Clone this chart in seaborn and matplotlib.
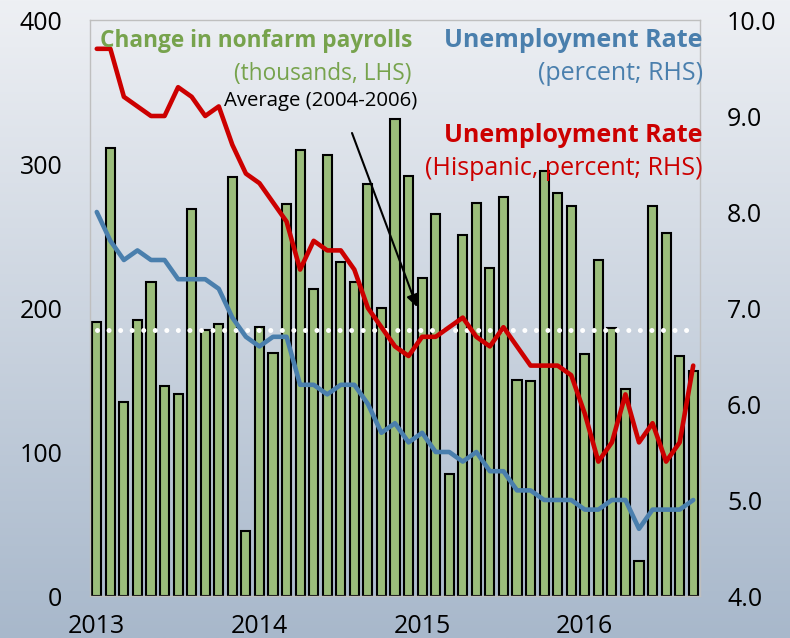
import numpy as np
import pandas as pd
import matplotlib
matplotlib.use("Agg")
import matplotlib.pyplot as plt
import seaborn as sns

# ---------------- data ----------------
months = list(range(45))  # Jan 2013 .. Sep 2016
payrolls = [190, 311, 135, 192, 218, 146, 140, 269, 185, 189, 291, 45,
            187, 169, 272, 310, 213, 306, 232, 218, 286, 200, 331, 292,
            221, 265, 85, 251, 273, 228, 277, 150, 149, 295, 280, 271,
            168, 233, 186, 144, 24, 271, 252, 167, 156]
unemp = [8.0, 7.7, 7.5, 7.6, 7.5, 7.5, 7.3, 7.3, 7.3, 7.2, 6.9, 6.7,
         6.6, 6.7, 6.7, 6.2, 6.2, 6.1, 6.2, 6.2, 6.0, 5.7, 5.8, 5.6,
         5.7, 5.5, 5.5, 5.4, 5.5, 5.3, 5.3, 5.1, 5.1, 5.0, 5.0, 5.0,
         4.9, 4.9, 5.0, 5.0, 4.7, 4.9, 4.9, 4.9, 5.0]
unemp_hisp = [9.7, 9.7, 9.2, 9.1, 9.0, 9.0, 9.3, 9.2, 9.0, 9.1, 8.7, 8.4,
              8.3, 8.1, 7.9, 7.4, 7.7, 7.6, 7.6, 7.4, 7.0, 6.8, 6.6, 6.5,
              6.7, 6.7, 6.8, 6.9, 6.7, 6.6, 6.8, 6.6, 6.4, 6.4, 6.4, 6.3,
              5.9, 5.4, 5.6, 6.1, 5.6, 5.8, 5.4, 5.6, 6.4]
avg_2004_2006 = 185
year_ticks = [0, 12, 24, 36]
year_labels = ["2013", "2014", "2015", "2016"]
left_ticks = [0, 100, 200, 300, 400]
right_ticks = [4.0, 5.0, 6.0, 7.0, 8.0, 9.0, 10.0]

df = pd.DataFrame({"month": months, "payrolls": payrolls,
                   "unemp": unemp, "hisp": unemp_hisp})

# ---------------- style ----------------
sns.set_style("white")
plt.rcParams["font.family"] = ["Open Sans", "DejaVu Sans"]

GREEN_BAR = "#9BBD7B"
GREEN_TXT = "#77A34D"
BLUE = "#4A7FAD"
RED = "#CC0000"

W, H = 790, 638
fig = plt.figure(figsize=(W / 100, H / 100), dpi=100)

# background gradient
bg = fig.add_axes([0, 0, 1, 1], zorder=-10)
top = np.array([238, 240, 244]) / 255
bot = np.array([168, 184, 203]) / 255
t = np.linspace(0, 1, 256)[:, None]
grad = top[None, :] * (1 - t) + bot[None, :] * t
bg.imshow(grad[:, None, :], aspect="auto", extent=[0, 1, 0, 1])
bg.axis("off")

def px(x0, y0, x1, y1):
    return [x0 / W, 1 - y1 / H, (x1 - x0) / W, (y1 - y0) / H]

ax = fig.add_axes(px(90, 20, 700, 596))
ax.set_facecolor("none")

sns.barplot(data=df, x="month", y="payrolls", color=GREEN_BAR, saturation=1,
            width=0.68, edgecolor="black", linewidth=1.5, ax=ax, zorder=2)
ax.plot([0, 44], [avg_2004_2006, avg_2004_2006], color="white",
        linestyle=(0, (0.01, 2.3)), linewidth=3.6, dash_capstyle="round",
        zorder=3)

ax.set_xlim(-0.5, 44.5)
ax.set_ylim(0, 400)
ax.set_yticks(left_ticks)
ax.set_yticklabels([str(v) for v in left_ticks])
ax.set_xticks(year_ticks)
ax.set_xticklabels(year_labels)
ax.set_xlabel("")
ax.set_ylabel("")
ax.tick_params(axis="y", length=0, pad=20, labelsize=18, colors="black")
ax.tick_params(axis="x", length=0, pad=13, labelsize=18, colors="black")
for s in ax.spines.values():
    s.set_color("#BFBFBF")
    s.set_linewidth(1)

ax2 = ax.twinx()
ax2.set_facecolor("none")
sns.lineplot(data=df, x="month", y="unemp", color=BLUE, linewidth=3.3,
             ax=ax2, solid_joinstyle="round", solid_capstyle="round")
sns.lineplot(data=df, x="month", y="hisp", color=RED, linewidth=3.3,
             ax=ax2, solid_joinstyle="round", solid_capstyle="round")
ax2.set_ylim(4, 10)
ax2.set_yticks(right_ticks)
ax2.set_yticklabels([f"{v:.1f}" for v in right_ticks])
ax2.set_ylabel("")
ax2.set_xlabel("")
ax2.tick_params(axis="y", length=0, pad=19.5, labelsize=18, colors="black")
for s in ax2.spines.values():
    s.set_visible(False)
ax2.set_xlim(-0.5, 44.5)

# ---------------- annotations ----------------
def fx(x):
    return x / W

def fy(y):
    return 1 - y / H

fig.text(fx(412), fy(47), "Change in nonfarm payrolls", color=GREEN_TXT,
         fontsize=16.3, fontweight="bold", ha="right", va="baseline")
fig.text(fx(411), fy(80), "(thousands, LHS)", color=GREEN_TXT,
         fontsize=16.3, ha="right", va="baseline")
fig.text(fx(703), fy(47), "Unemployment Rate", color=BLUE,
         fontsize=18, fontweight="bold", ha="right", va="baseline")
fig.text(fx(703), fy(80), "(percent; RHS)", color=BLUE,
         fontsize=18, ha="right", va="baseline")
fig.text(fx(703), fy(142), "Unemployment Rate", color=RED,
         fontsize=18, fontweight="bold", ha="right", va="baseline")
fig.text(fx(703), fy(175), "(Hispanic, percent; RHS)", color=RED,
         fontsize=18, ha="right", va="baseline")
fig.text(fx(224), fy(106), "Average (2004-2006)", color="black",
         fontsize=14.7, ha="left", va="baseline")

ax.annotate("", xy=(fx(417), fy(307)), xycoords="figure fraction",
            xytext=(fx(352), fy(133)), textcoords="figure fraction",
            arrowprops=dict(arrowstyle="-|>", color="black", lw=1.5,
                            mutation_scale=18, shrinkA=0, shrinkB=0),
            zorder=6)

fig.savefig("out.png", dpi=100)
